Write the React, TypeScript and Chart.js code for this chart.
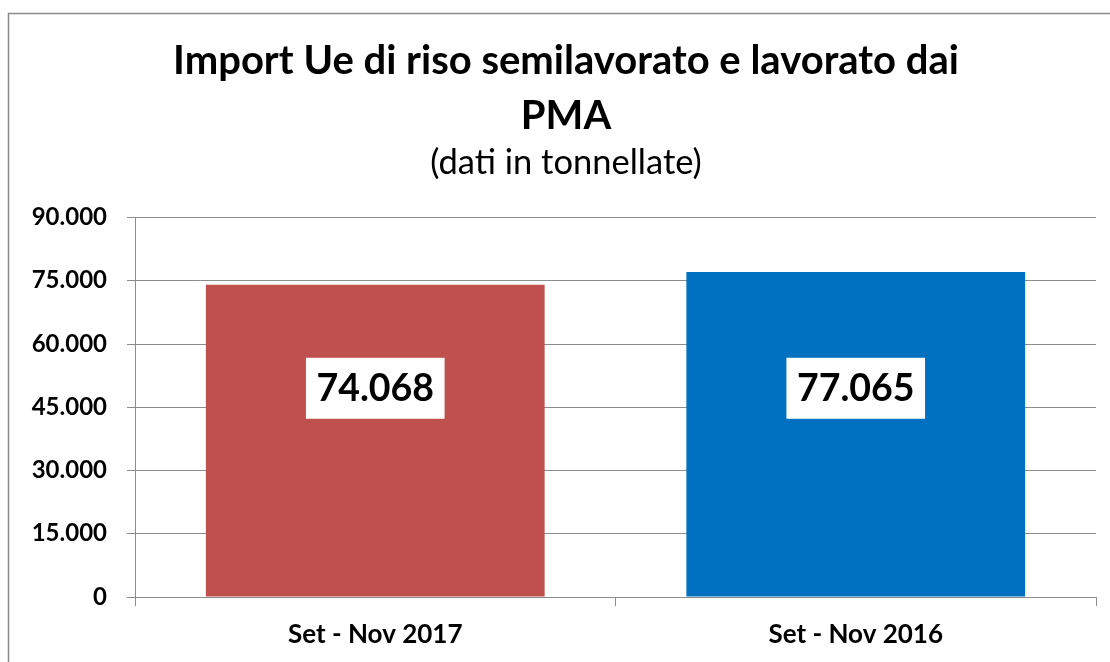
import React, { useEffect, useRef } from 'react';
import { Chart, registerables } from 'chart.js';

Chart.register(...registerables);

const categories = ['Set - Nov 2017', 'Set - Nov 2016'];
const values = [74068, 77065];
const barColors = ['#C0504D', '#0070C0'];
const titleLines = ['Import Ue di riso semilavorato e lavorato dai', 'PMA'];
const subtitleText = '(dati in tonnellate)';
const yMin = 0;
const yMax = 90000;
const yStep = 15000;

const FONT = 'Lato, "Open Sans", sans-serif';
const GRID = '#8c8c8c';

const fmt = (v: number) =>
  Math.round(v)
    .toString()
    .replace(/\B(?=(\d{3})+(?!\d))/g, '.');

const framePlugin = {
  id: 'frame',
  beforeDraw(chart: any) {
    const ctx = chart.ctx;
    ctx.save();
    ctx.fillStyle = '#ffffff';
    ctx.fillRect(0, 0, chart.width, chart.height);
    ctx.strokeStyle = '#8a8a8a';
    ctx.lineWidth = 1.5;
    ctx.strokeRect(8.5, 13.5, chart.width + 20, chart.height + 20);
    ctx.restore();
  },
};

const headerPlugin = {
  id: 'header',
  afterDraw(chart: any) {
    const ctx = chart.ctx;
    const cx = (36 + chart.chartArea.right) / 2;
    ctx.save();
    ctx.fillStyle = '#000000';
    ctx.textAlign = 'center';
    ctx.textBaseline = 'middle';
    ctx.font = `bold 40px ${FONT}`;
    titleLines.forEach((line, i) => {
      ctx.fillText(line, cx, 61 + i * 55);
    });
    ctx.font = `normal 34.5px ${FONT}`;
    ctx.fillText(subtitleText, cx, 162.5);
    ctx.restore();
  },
};

const valueLabelPlugin = {
  id: 'valueLabels',
  afterDatasetsDraw(chart: any) {
    const ctx = chart.ctx;
    const area = chart.chartArea;
    const meta = chart.getDatasetMeta(0);
    const ds = chart.data.datasets[0];
    ctx.save();
    ctx.font = `bold 37.5px ${FONT}`;
    ctx.textAlign = 'center';
    ctx.textBaseline = 'middle';
    meta.data.forEach((bar: any, i: number) => {
      const text = fmt(ds.data[i]);
      const w = ctx.measureText(text).width + 21;
      const h = 61;
      const cy = area.top + (area.bottom - area.top) * 0.45;
      ctx.fillStyle = '#ffffff';
      ctx.fillRect(bar.x - w / 2, cy - h / 2, w, h);
      ctx.fillStyle = '#000000';
      ctx.fillText(text, bar.x, cy + 1);
    });
    ctx.restore();
  },
};

export default function App() {
  const ref = useRef<HTMLCanvasElement | null>(null);

  useEffect(() => {
    if (!ref.current) return;
    const chart = new Chart(ref.current, {
      type: 'bar',
      data: {
        labels: categories,
        datasets: [
          {
            data: values,
            backgroundColor: barColors,
            borderWidth: 0,
            categoryPercentage: 1,
            barPercentage: 0.705,
          },
        ],
      },
      options: {
        responsive: false,
        animation: false,
        devicePixelRatio: 1,
        layout: { padding: { top: 217.5, left: 0, right: 14, bottom: 0 } },
        plugins: {
          legend: { display: false },
          tooltip: { enabled: false },
          title: { display: false },
          subtitle: { display: false },
        },
        scales: {
          x: {
            offset: true,
            grid: {
              display: true,
              drawOnChartArea: false,
              drawTicks: true,
              tickLength: 9,
              offset: true,
              color: GRID,
              lineWidth: 1,
            },
            border: { display: true, color: GRID, width: 1 },
            ticks: {
              color: '#000000',
              font: { family: FONT, size: 26, weight: 'bold' },
              padding: 13,
            },
            afterFit: (scale: any) => {
              scale.height = 65;
            },
          },
          y: {
            min: yMin,
            max: yMax,
            grid: {
              color: GRID,
              lineWidth: 1,
              drawTicks: true,
              tickLength: 8,
            },
            border: { display: true, color: GRID, width: 1 },
            ticks: {
              stepSize: yStep,
              color: '#000000',
              font: { family: FONT, size: 24, weight: 'bold' },
              padding: 20,
              callback: (v: any) => fmt(Number(v)),
            },
            afterFit: (scale: any) => {
              scale.width = 135;
            },
          },
        },
      },
      plugins: [framePlugin, valueLabelPlugin, headerPlugin],
    });
    return () => chart.destroy();
  }, []);

  return (
    <div style={{ position: 'fixed', left: 0, top: 0, width: 1110, height: 662 }}>
      <canvas ref={ref} width={1110} height={662} style={{ display: 'block' }} />
    </div>
  );
}
